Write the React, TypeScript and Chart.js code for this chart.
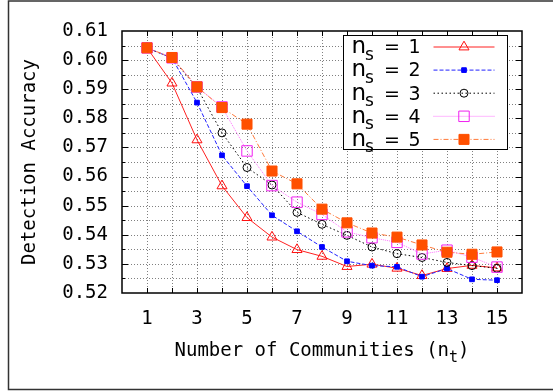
import React, { useEffect, useRef } from 'react';
import { Chart, registerables } from 'chart.js';

Chart.register(...registerables);

// ---------- data ----------
const communities = [1, 2, 3, 4, 5, 6, 7, 8, 9, 10, 11, 12, 13, 14, 15];
const ns1 = [0.6042, 0.5921, 0.5726, 0.5568, 0.5459, 0.5392, 0.5349, 0.5326, 0.5291, 0.5299, 0.5285, 0.526, 0.5284, 0.5295, 0.5286];
const ns2 = [0.6042, 0.6007, 0.5854, 0.5673, 0.5567, 0.5467, 0.5412, 0.5358, 0.5309, 0.5294, 0.529, 0.5256, 0.5284, 0.5247, 0.5244];
const ns3 = [0.6042, 0.6007, 0.5905, 0.575, 0.5631, 0.5571, 0.5477, 0.5436, 0.5398, 0.5358, 0.5335, 0.5322, 0.5305, 0.5294, 0.5285];
const ns4 = [0.6042, 0.6008, 0.5908, 0.5839, 0.5688, 0.5569, 0.5512, 0.547, 0.541, 0.539, 0.5374, 0.5334, 0.5347, 0.5323, 0.5289];
const ns5 = [0.6042, 0.6009, 0.5908, 0.5837, 0.578, 0.5619, 0.5575, 0.5488, 0.5441, 0.5406, 0.5392, 0.5365, 0.534, 0.5333, 0.5341];
const seriesValues = [ns1, ns2, ns3, ns4, ns5];
const legendValues = ['1', '2', '3', '4', '5'];

const xMin = 0;
const xMax = 16;
const xLabelled = [1, 3, 5, 7, 9, 11, 13, 15];
const yMin = 0.52;
const yMax = 0.61;
const yStep = 0.005;

const yTitle = 'Detection Accuracy';
const xTitleMain = 'Number of Communities (n';
const xTitleSub = 't';
const xTitleEnd = ')';
const legendBase = 'n';
const legendSub = 's';

// ---------- styles ----------
const MONO = '"DejaVu Sans Mono", monospace';
const SANS = '"DejaVu Sans", sans-serif';

type Style = {
  line: string;
  mark: string;
  dash: number[];
  shape: 'triangle' | 'rect' | 'circle';
  r: number;
  filled: boolean;
};

const styles: Style[] = [
  { line: '#ff2020', mark: '#ff1010', dash: [], shape: 'triangle', r: 5.8, filled: false },
  { line: '#2020ff', mark: '#0000ff', dash: [4, 2], shape: 'rect', r: 3.3, filled: true },
  { line: '#000000', mark: '#000000', dash: [1.5, 2.5], shape: 'circle', r: 4, filled: false },
  { line: '#ff70ff', mark: '#f020f0', dash: [1, 1], shape: 'rect', r: 7.4, filled: false },
  { line: '#ff7a3a', mark: '#ff5000', dash: [5, 2, 1, 2], shape: 'rect', r: 7.1, filled: true },
];

function drawMarker(ctx: CanvasRenderingContext2D, st: Style, x: number, y: number) {
  ctx.save();
  ctx.setLineDash([]);
  ctx.beginPath();
  if (st.shape === 'triangle') {
    let rad = 0;
    ctx.moveTo(x + Math.sin(rad) * st.r, y - Math.cos(rad) * st.r);
    rad += (2 * Math.PI) / 3;
    ctx.lineTo(x + Math.sin(rad) * st.r, y - Math.cos(rad) * st.r);
    rad += (2 * Math.PI) / 3;
    ctx.lineTo(x + Math.sin(rad) * st.r, y - Math.cos(rad) * st.r);
    ctx.closePath();
  } else if (st.shape === 'rect') {
    const s = Math.SQRT1_2 * st.r;
    ctx.rect(x - s, y - s, 2 * s, 2 * s);
  } else {
    ctx.arc(x, y, st.r, 0, Math.PI * 2);
  }
  if (st.filled) {
    ctx.fillStyle = st.mark;
    ctx.fill();
  }
  ctx.strokeStyle = st.mark;
  ctx.lineWidth = 1;
  ctx.stroke();
  ctx.restore();
}

const decor = {
  id: 'decor',
  beforeDatasetsDraw(chart: any) {
    const { ctx, chartArea: a } = chart;
    const xs = chart.scales.x;
    const ys = chart.scales.y;
    ctx.save();
    // dotted grid
    ctx.strokeStyle = '#808080';
    ctx.lineWidth = 1;
    ctx.setLineDash([1, 2]);
    for (let v = xMin + 1; v < xMax; v++) {
      const px = Math.round(xs.getPixelForValue(v)) + 0.5;
      ctx.beginPath();
      ctx.moveTo(px, a.top);
      ctx.lineTo(px, a.bottom);
      ctx.stroke();
    }
    const nY = Math.round((yMax - yMin) / yStep);
    for (let k = 1; k < nY; k++) {
      const py = Math.round(ys.getPixelForValue(yMin + k * yStep)) + 0.5;
      ctx.beginPath();
      ctx.moveTo(a.left, py);
      ctx.lineTo(a.right, py);
      ctx.stroke();
    }
    ctx.setLineDash([]);
    // inward tick marks
    ctx.strokeStyle = '#000';
    for (let v = xMin + 1; v < xMax; v++) {
      const px = Math.round(xs.getPixelForValue(v)) + 0.5;
      ctx.beginPath();
      ctx.moveTo(px, a.bottom);
      ctx.lineTo(px, a.bottom - 5);
      ctx.moveTo(px, a.top);
      ctx.lineTo(px, a.top + 5);
      ctx.stroke();
    }
    for (let k = 1; k < nY; k++) {
      const py = Math.round(ys.getPixelForValue(yMin + k * yStep)) + 0.5;
      const len = k % 2 === 0 ? 6 : 3;
      ctx.beginPath();
      ctx.moveTo(a.left, py);
      ctx.lineTo(a.left + len, py);
      ctx.moveTo(a.right, py);
      ctx.lineTo(a.right - len, py);
      ctx.stroke();
    }
    ctx.restore();
  },
  afterDraw(chart: any) {
    const { ctx, chartArea: a, width, height } = chart;
    ctx.save();
    // plot border
    ctx.strokeStyle = '#000';
    ctx.lineWidth = 1.5;
    ctx.strokeRect(a.left, a.top, a.right - a.left, a.bottom - a.top);

    // outer figure frame (top, left, bottom)
    ctx.strokeStyle = '#333';
    ctx.lineWidth = 1.5;
    ctx.beginPath();
    ctx.moveTo(width, 1);
    ctx.lineTo(8.5, 1);
    ctx.lineTo(8.5, height - 1.5);
    ctx.lineTo(width, height - 1.5);
    ctx.stroke();

    // axis titles
    ctx.fillStyle = '#000';
    ctx.textBaseline = 'alphabetic';
    const cx = (a.left + a.right) / 2;
    const cy = (a.top + a.bottom) / 2;
    ctx.save();
    ctx.translate(35, cy);
    ctx.rotate(-Math.PI / 2);
    ctx.font = `19px ${MONO}`;
    ctx.textAlign = 'center';
    ctx.fillText(yTitle, 0, 0);
    ctx.restore();

    ctx.textAlign = 'left';
    ctx.font = `19px ${MONO}`;
    const w1 = ctx.measureText(xTitleMain).width;
    const w3 = ctx.measureText(xTitleEnd).width;
    ctx.font = `15px ${MONO}`;
    const w2 = ctx.measureText(xTitleSub).width;
    let tx = cx - (w1 + w2 + w3) / 2;
    const base = a.bottom + 63;
    ctx.font = `19px ${MONO}`;
    ctx.fillText(xTitleMain, tx, base);
    tx += w1;
    ctx.font = `15px ${MONO}`;
    ctx.fillText(xTitleSub, tx, base + 6);
    tx += w2;
    ctx.font = `19px ${MONO}`;
    ctx.fillText(xTitleEnd, tx, base);

    // legend
    const lx = a.right - 14.5;
    const bx = lx - 164;
    const by = a.top + 4.5;
    ctx.fillStyle = '#fff';
    ctx.fillRect(bx, by, 164, 114);
    ctx.strokeStyle = '#000';
    ctx.lineWidth = 1;
    ctx.strokeRect(bx, by, 164, 114);
    styles.forEach((st, i) => {
      const yc = by + 11.5 + i * 23.1;
      ctx.save();
      ctx.strokeStyle = st.line;
      ctx.lineWidth = 1;
      ctx.setLineDash(st.dash);
      ctx.beginPath();
      ctx.moveTo(bx + 90, yc);
      ctx.lineTo(bx + 151, yc);
      ctx.stroke();
      ctx.restore();
      drawMarker(ctx, st, bx + 120.5, yc);
      ctx.fillStyle = '#000';
      ctx.textAlign = 'left';
      ctx.font = `23px ${SANS}`;
      ctx.fillText(legendBase, bx + 8, yc + 6.3);
      ctx.font = `17px ${SANS}`;
      ctx.fillText(legendSub, bx + 21.5, yc + 12.5);
      ctx.font = `19px ${SANS}`;
      ctx.fillText('=', bx + 40.5, yc + 6.3);
      ctx.fillText(legendValues[i], bx + 65, yc + 6.3);
    });
    ctx.restore();
  },
};

export default function App() {
  const ref = useRef<HTMLCanvasElement | null>(null);

  useEffect(() => {
    if (!ref.current) return;
    const datasets = seriesValues.map((vals, i) => {
      const st = styles[i];
      return {
        label: `ns = ${legendValues[i]}`,
        data: communities.map((c, j) => ({ x: c, y: vals[j] })),
        borderColor: st.line,
        borderWidth: 1,
        borderDash: st.dash,
        pointStyle: st.shape,
        pointRadius: st.r,
        pointBorderWidth: 1,
        pointBorderColor: st.mark,
        pointBackgroundColor: st.filled ? st.mark : 'rgba(0,0,0,0)',
        fill: false,
        tension: 0,
        order: 5 - i,
      };
    });

    const chart = new Chart(ref.current, {
      type: 'line',
      data: { datasets },
      options: {
        animation: false,
        responsive: false,
        devicePixelRatio: 1,
        layout: { padding: { top: 31, right: 31, left: 0, bottom: 0 } },
        plugins: { legend: { display: false }, tooltip: { enabled: false }, title: { display: false } },
        scales: {
          x: {
            type: 'linear',
            min: xMin,
            max: xMax,
            grid: { display: false },
            border: { display: false },
            ticks: {
              stepSize: 1,
              autoSkip: false,
              maxRotation: 0,
              padding: 7,
              color: '#000',
              font: { family: MONO, size: 19 },
              callback: (v: any) => (xLabelled.includes(Number(v)) ? String(v) : ''),
            },
            afterFit: (s: any) => {
              s.height = 98;
            },
          },
          y: {
            type: 'linear',
            min: yMin,
            max: yMax,
            grid: { display: false },
            border: { display: false },
            ticks: {
              stepSize: yStep,
              autoSkip: false,
              padding: 6,
              color: '#000',
              font: { family: MONO, size: 19 },
              callback: (v: any, i: number) => (i % 2 === 0 ? Number(v).toFixed(2) : ''),
            },
            afterFit: (s: any) => {
              s.width = 122;
            },
          },
        },
      },
      plugins: [decor],
    });
    return () => chart.destroy();
  }, []);

  return (
    <div style={{ position: 'fixed', left: 0, top: 0, width: 553, height: 391, background: '#fff' }}>
      <canvas ref={ref} width={553} height={391} style={{ display: 'block' }} />
    </div>
  );
}
